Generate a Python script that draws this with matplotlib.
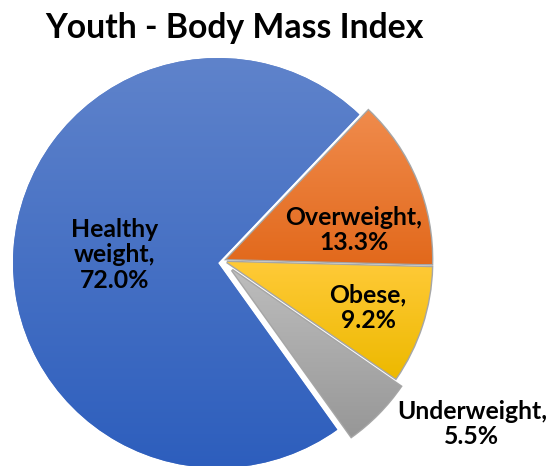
import numpy as np
import matplotlib
matplotlib.use('Agg')
import matplotlib.pyplot as plt
from matplotlib.colors import LinearSegmentedColormap

labels = ['Underweight', 'Healthy weight', 'Overweight', 'Obese']
values = [5.5, 72.0, 13.3, 9.2]
# light (top) / dark (bottom) colours for each slice
tops = ['#bdbdbd', '#5f83cb', '#f08b4c', '#ffca38']
bottoms = ['#979797', '#2d5ebd', '#e2691c', '#edb900']
# how far each slice is pulled out, in pixels (x right, y down)
shift = [(14, 7), (0, 0), (9, -4), (9, -1)]
label_text = ['Underweight,\n5.5%', 'Healthy\nweight,\n72.0%', 'Overweight,\n13.3%', 'Obese,\n9.2%']
label_pos = [(472, 424), (115, 255), (354, 230), (368, 308)]

plt.rcParams['font.family'] = ['Lato', 'DejaVu Sans']

R = 205
cx, cy = 218, 263
fig = plt.figure(figsize=(5.5, 4.66), dpi=100)
ax = fig.add_axes([0, 0, 1, 1])

# pie in pixel units, y axis flipped so angles go the other way
wedges, _ = ax.pie(values, startangle=34.6, counterclock=True,
                   center=(cx, cy), radius=R, frame=True,
                   wedgeprops=dict(linewidth=0))
ax.set_xlim(0, 550)
ax.set_ylim(466, 0)
ax.set_aspect('equal')
ax.axis('off')

for i, w in enumerate(wedges):
    w.set_center((cx + shift[i][0], cy + shift[i][1]))
    w.set_facecolor(tops[i])
    if shift[i] != (0, 0):
        # soft shadow round the pulled-out slices
        w.set_edgecolor('#a6a6a6')
        w.set_linewidth(2.0)
    bb = w.get_path().get_extents(w.get_transform())
    cmap = LinearSegmentedColormap.from_list('g%d' % i, [tops[i], bottoms[i]])
    x0, y0 = ax.transData.inverted().transform((bb.x0, bb.y0))
    x1, y1 = ax.transData.inverted().transform((bb.x1, bb.y1))
    grad = np.linspace(0, 1, 256).reshape(-1, 1)
    im = ax.imshow(grad, cmap=cmap, aspect='auto',
                   extent=(x0, x1, max(y0, y1), min(y0, y1)), zorder=w.get_zorder() + 0.1)
    im.set_clip_path(w)

ax.set_xlim(0, 550)
ax.set_ylim(466, 0)

for t, p in zip(label_text, label_pos):
    ax.text(p[0], p[1], t, ha='center', va='center', fontsize=17.8,
            fontweight='bold', linespacing=1.15, color='black', zorder=10)

fig.text(234 / 550, 1 - 28 / 466, 'Youth - Body Mass Index', ha='center', va='center',
         fontsize=24.3, fontweight='bold', color='black')

fig.savefig('out.png', dpi=100)
